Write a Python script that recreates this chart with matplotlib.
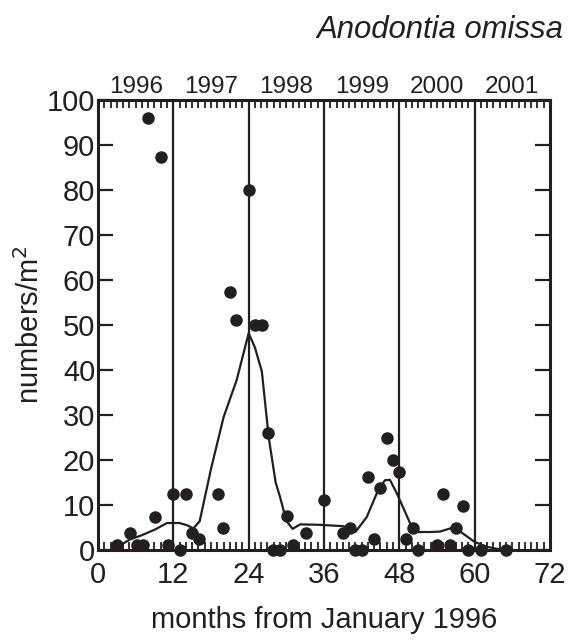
import matplotlib.pyplot as plt
import numpy as np

# Individual samples (month, numbers per m^2)
months = [3.0, 5.1, 6.2, 7.2, 8.0, 9.1, 10.0, 11.1, 12.0, 13.1, 14.0, 15.0, 16.1,
          19.1, 19.9, 21.0, 22.0, 24.0, 25.0, 26.1, 27.1, 27.9, 29.0, 30.1, 31.1,
          33.1, 36.0, 39.0, 40.1, 41.0, 42.0, 43.0, 43.9, 44.9, 46.0, 47.0, 48.0,
          49.0, 50.1, 51.0, 54.0, 55.0, 56.0, 57.0, 58.1, 59.0, 61.0, 65.0]
density = [1.1, 3.7, 1.1, 1.1, 96.0, 7.4, 87.4, 1.1, 12.5, 0.0, 12.5, 3.7, 2.4,
           12.5, 4.9, 57.4, 51.2, 80.0, 49.9, 49.9, 26.0, 0.0, 0.0, 7.5, 1.1,
           3.7, 11.2, 3.7, 5.0, 0.0, 0.0, 16.2, 2.4, 13.7, 25.0, 19.9, 17.4,
           2.4, 4.9, 0.0, 1.1, 12.5, 1.1, 5.0, 9.8, 0.0, 0.0, 0.0]

# Smoothed trend line
trend_months = [3.0, 5.0, 7.0, 9.0, 11.0, 13.0, 14.2, 15.2, 16.2, 18.0, 20.0, 22.1,
                24.0, 25.0, 26.1, 27.2, 28.3, 29.0, 30.0, 31.0, 32.2, 35.4, 39.0,
                40.1, 41.0, 42.8, 44.6, 45.7, 46.5, 47.6, 49.7, 50.8, 52.9, 54.5,
                56.8, 58.1, 60.0, 62.0, 64.5]
trend_values = [0.5, 2.3, 3.3, 4.5, 6.0, 6.0, 5.5, 4.8, 6.4, 18.0, 29.5, 37.8,
                48.2, 45.0, 39.7, 25.0, 15.0, 11.8, 6.5, 4.7, 5.7, 5.6, 5.3,
                4.9, 4.0, 7.3, 13.2, 15.5, 15.6, 12.6, 6.0, 4.0, 4.0, 4.1,
                5.1, 3.7, 1.8, 0.7, 0.0]

years = ['1996', '1997', '1998', '1999', '2000', '2001']
year_bounds = [12, 24, 36, 48, 60]

plt.rcParams['font.family'] = ['Liberation Sans', 'DejaVu Sans']
ink = '#231f20'

fig = plt.figure(figsize=(5.71, 6.40), dpi=100)
ax = fig.add_axes([0.1716, 0.1406, 0.7916, 0.7031])

# year boundaries
for b in year_bounds:
    ax.axvline(b, color=ink, lw=1.6, zorder=1)

ax.plot(trend_months, trend_values, color=ink, lw=1.6, zorder=2)
ax.plot(months, density, 'o', color=ink, ms=8, clip_on=False, zorder=3)

ax.set_xlim(0, 72)
ax.set_ylim(0, 100)
ax.set_xticks(np.arange(0, 73, 12))
ax.set_xticks(np.arange(1, 72), minor=True)
ax.set_yticks(np.arange(0, 101, 10))

ax.tick_params(axis='x', which='major', direction='in', length=0, labelsize=21,
               pad=8, colors=ink)
ax.tick_params(axis='x', which='minor', direction='in', length=6, width=1.3,
               top=True, bottom=True, color=ink)
ax.tick_params(axis='y', which='major', direction='in', length=11, width=1.6,
               left=True, right=True, labelsize=21, pad=2, colors=ink)

for s in ax.spines.values():
    s.set_linewidth(2.2)
    s.set_color(ink)

# year labels along the top
for i, y in enumerate(years):
    ax.text(6 + 12 * i, 101.5, y, ha='center', va='baseline', fontsize=17.5,
            color=ink)

ax.set_xlabel('months from January 1996', fontsize=21, labelpad=12, color=ink)
ax.set_ylabel('numbers/m$^2$', fontsize=21, labelpad=1, color=ink)

fig.text(0.986, 0.9406, 'Anodontia omissa', ha='right', va='baseline',
         fontsize=22.4, style='italic', color=ink)

fig.savefig('out.png', dpi=100)
